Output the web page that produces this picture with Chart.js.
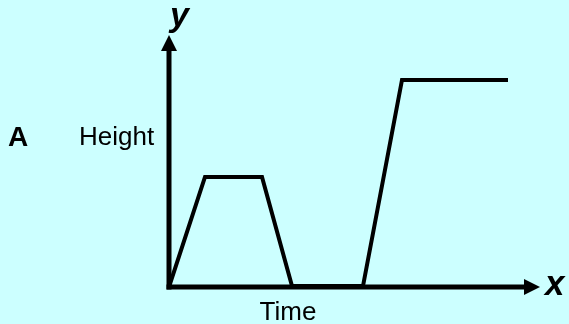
<!DOCTYPE html>
<html>
<head>
<meta charset="utf-8">
<script src="https://cdn.jsdelivr.net/npm/chart.js@4/dist/chart.umd.min.js"></script>
<style>
    html, body { margin: 0; padding: 0; background: #ccffff; }
    #wrap { width: 569px; height: 324px; }
</style>
</head>
<body>
<div id="wrap"><canvas id="heightChart" width="569" height="324"></canvas></div>
<script>
// Time / height samples of the sketch (arbitrary units)
const timeValues = [0, 3.6, 9.3, 12.3, 19.4, 23.3, 33.9];
const heightValues = [0, 11.0, 11.0, 0.1, 0.1, 20.7, 20.7];
const xMax = 37.1;
const yMax = 25.2;

const axisLabels = { x: 'x', y: 'y', xTitle: 'Time', yTitle: 'Height', panel: 'A' };
const FONT = "'Liberation Sans', Arial, sans-serif";

// Axes with arrow heads + labels, drawn from the scales
const arrowAxes = {
    id: 'arrowAxes',
    afterDatasetsDraw(chart) {
        const ctx = chart.ctx;
        const xs = chart.scales.x, ys = chart.scales.y;
        const x0 = xs.getPixelForValue(0), y0 = ys.getPixelForValue(0);
        const xEnd = xs.getPixelForValue(xMax), yEnd = ys.getPixelForValue(yMax);
        const head = 16, half = 8;

        ctx.save();
        ctx.strokeStyle = '#000';
        ctx.fillStyle = '#000';
        ctx.lineWidth = 5;
        ctx.lineCap = 'butt';

        // y axis
        ctx.beginPath();
        ctx.moveTo(x0, y0 + 2.5);
        ctx.lineTo(x0, yEnd + head - 1);
        ctx.stroke();
        ctx.beginPath();
        ctx.moveTo(x0, yEnd);
        ctx.lineTo(x0 - half, yEnd + head);
        ctx.lineTo(x0 + half, yEnd + head);
        ctx.closePath();
        ctx.fill();

        // x axis
        ctx.beginPath();
        ctx.moveTo(x0 - 2.5, y0);
        ctx.lineTo(xEnd - head + 1, y0);
        ctx.stroke();
        ctx.beginPath();
        ctx.moveTo(xEnd, y0);
        ctx.lineTo(xEnd - head, y0 - half);
        ctx.lineTo(xEnd - head, y0 + half);
        ctx.closePath();
        ctx.fill();

        // labels
        ctx.textBaseline = 'alphabetic';
        ctx.textAlign = 'left';
        ctx.font = 'italic bold 34px ' + FONT;
        ctx.fillText(axisLabels.y, x0 + 1, yEnd - 9);
        ctx.font = 'italic bold 35px ' + FONT;
        ctx.fillText(axisLabels.x, xEnd + 5, y0 + 8);

        ctx.font = 'bold 28px ' + FONT;
        ctx.fillText(axisLabels.panel, 8, 146);

        ctx.font = '26px ' + FONT;
        ctx.fillText(axisLabels.yTitle, 79, 145);
        ctx.textAlign = 'center';
        ctx.fillText(axisLabels.xTitle, 288, 320);
        ctx.restore();
    }
};

new Chart(document.getElementById('heightChart').getContext('2d'), {
    type: 'line',
    data: {
        datasets: [{
            data: timeValues.map((t, i) => ({ x: t, y: heightValues[i] })),
            borderColor: '#000',
            borderWidth: 4,
            borderJoinStyle: 'miter',
            pointRadius: 0,
            tension: 0,
            fill: false
        }]
    },
    options: {
        responsive: false,
        animation: false,
        events: [],
        layout: { padding: { left: 169, right: 29, top: 35, bottom: 37 } },
        plugins: { legend: { display: false }, tooltip: { enabled: false } },
        scales: {
            x: { type: 'linear', min: 0, max: xMax, display: false },
            y: { type: 'linear', min: 0, max: yMax, display: false }
        }
    },
    plugins: [{
        id: 'bg',
        beforeDraw(chart) {
            chart.ctx.save();
            chart.ctx.fillStyle = '#ccffff';
            chart.ctx.fillRect(0, 0, chart.width, chart.height);
            chart.ctx.restore();
        }
    }, arrowAxes]
});
</script>
</body>
</html>
